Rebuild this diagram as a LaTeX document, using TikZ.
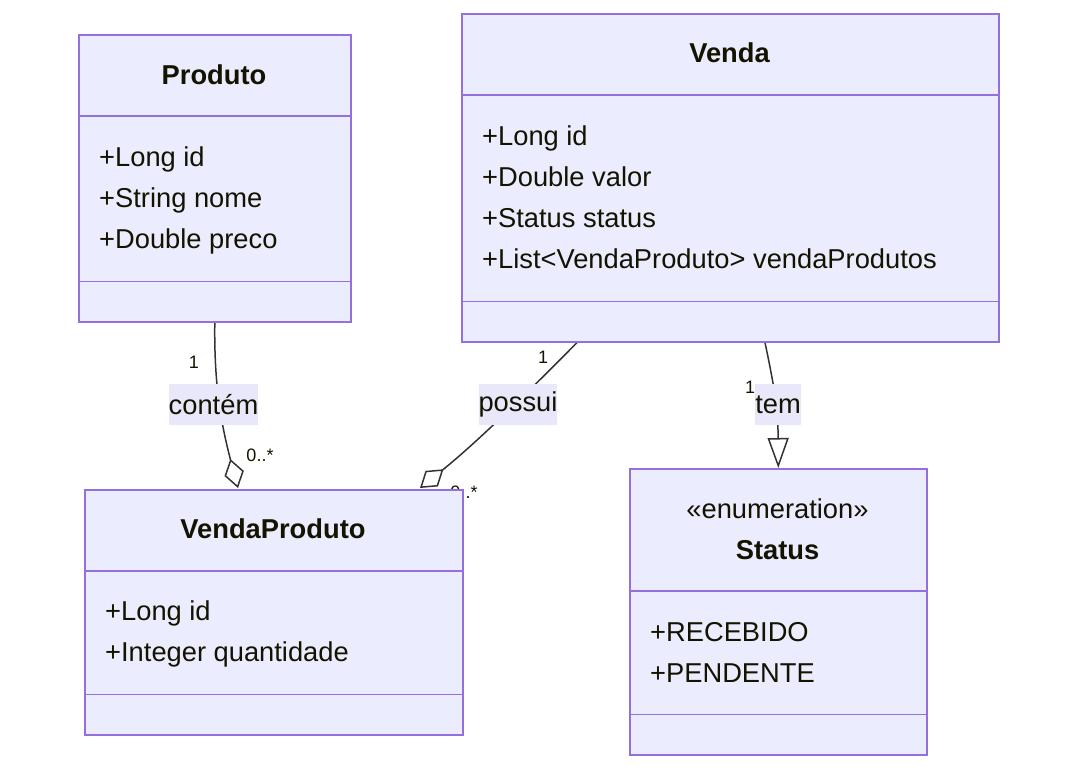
\documentclass[tikz,border=0pt]{standalone}
\usepackage{fontspec}
\setmainfont{Liberation Sans}
\usetikzlibrary{calc,backgrounds,arrows.meta}
\definecolor{boxfill}{HTML}{ECECFF}
\definecolor{boxline}{HTML}{9370DB}
\definecolor{lblfill}{HTML}{E8E8FA}
\definecolor{txt}{HTML}{131300}
\definecolor{conncol}{HTML}{333333}
\begin{document}
\begin{tikzpicture}[x=1pt,y=-1pt,
  box/.style={draw=boxline, fill=boxfill, line width=1.6pt, anchor=north west, inner sep=0pt},
  sep/.style={draw=boxline, line width=1.6pt},
  ttl/.style={font=\fontsize{27.3}{32}\selectfont\bfseries, text=txt, anchor=base, inner sep=0pt},
  attr/.style={font=\fontsize{27.3}{32}\selectfont, text=txt, anchor=base west, inner sep=0pt},
  stereo/.style={font=\fontsize{27.3}{32}\selectfont, text=txt, anchor=base, inner sep=0pt},
  elabel/.style={font=\fontsize{27.3}{32}\selectfont, text=txt, fill=lblfill, inner xsep=0pt, inner ysep=0pt, minimum height=41pt},
  mult/.style={font=\fontsize{18}{22}\selectfont, text=txt, inner sep=0pt},
  conn/.style={draw=conncol, line width=1.5pt},
  diam/.style={-{Diamond[open,length=30pt,width=20pt,line width=1.5pt]}},
  tri/.style={-{Triangle[open,length=30pt,width=21pt,line width=1.5pt]}}
]
\path[use as bounding box] (0,0) rectangle (1076,769);

% Produto
\node[box, minimum width=272pt, minimum height=287pt] (prod) at (78,34) {};
\draw[sep] ($(prod.north west)+(0,82)$) -- ($(prod.north east)+(0,82)$);
\draw[sep] ($(prod.south west)+(0,-41)$) -- ($(prod.south east)+(0,-41)$);
\node[ttl] (prodt) at (214,84) {Produto};
\node[attr] (proda1) at (99,166) {+Long id};
\node[attr] (proda2) at (99,207) {+String nome};
\node[attr] (proda3) at (99,248) {+Double preco};

% Venda
\node[box, minimum width=537pt, minimum height=328pt] (venda) at (461,13) {};
\draw[sep] ($(venda.north west)+(0,82)$) -- ($(venda.north east)+(0,82)$);
\draw[sep] ($(venda.south west)+(0,-41)$) -- ($(venda.south east)+(0,-41)$);
\node[ttl] (vendat) at (729.5,62) {Venda};
\node[attr] (vendaa1) at (482,145) {+Long id};
\node[attr] (vendaa2) at (482,186) {+Double valor};
\node[attr] (vendaa3) at (482,227) {+Status status};
\node[attr] (vendaa4) at (482,268) {+List<VendaProduto> vendaProdutos};

% VendaProduto
\node[box, minimum width=378pt, minimum height=245pt] (vp) at (84,489) {};
\draw[sep] ($(vp.north west)+(0,82)$) -- ($(vp.north east)+(0,82)$);
\draw[sep] ($(vp.south west)+(0,-41)$) -- ($(vp.south east)+(0,-41)$);
\node[ttl] (vpt) at (273,538) {VendaProduto};
\node[attr] (vpa1) at (105,620) {+Long id};
\node[attr] (vpa2) at (105,661) {+Integer quantidade};

% Status
\node[box, minimum width=297pt, minimum height=286pt] (status) at (629,468) {};
\draw[sep] ($(status.north west)+(0,123)$) -- ($(status.north east)+(0,123)$);
\draw[sep] ($(status.south west)+(0,-41)$) -- ($(status.south east)+(0,-41)$);
\node[stereo] (statuss) at (777.5,518) {«enumeration»};
\node[ttl] (statust) at (777.5,559) {Status};
\node[attr] (statusa1) at (650,641) {+RECEBIDO};
\node[attr] (statusa2) at (650,682) {+PENDENTE};

\begin{scope}[on background layer]
  \coordinate (vpc) at ($(vp.north west)+(154,-1)$);
  \coordinate (vpp) at ($(vp.north west)+(336,-1)$);
  \coordinate (vdp) at ($(venda.south west)+(116,0)$);
  \coordinate (vdt) at ($(venda.south west)+(304,0)$);
  % contém
  \draw[conn, diam] (prod.south) .. controls (214,380) and (220,420) .. (vpc);
  % possui
  \draw[conn, diam] (vdp) .. controls (540,380) and (480,440) .. (vpp);
  % tem
  \draw[conn, tri] (vdt) .. controls (775,390) and (778,410) .. (status.north);
  \node[mult] (m4) at (464,492) {0..*};
\end{scope}

\node[elabel, minimum width=89pt] (lc) at (213.5,404.5) {contém};
\node[elabel, minimum width=78pt] (lp) at (518,404.5) {possui};
\node[elabel, minimum width=46pt] (lt) at (778,404.5) {tem};

\node[mult] (m1) at (194,362) {1};
\node[mult] (m2) at (260,455) {0..*};
\node[mult] (m3) at (543,357) {1};
\node[mult] (m5) at (750,387) {1};
\end{tikzpicture}
\end{document}
